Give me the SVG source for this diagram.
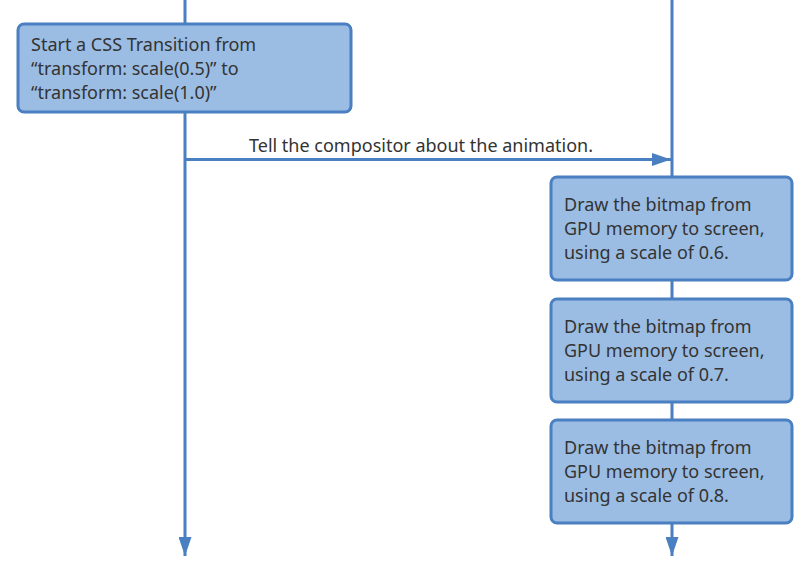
<svg xmlns="http://www.w3.org/2000/svg" width="811" height="574" viewBox="0 0 811 574">
<defs>
<marker id="ah" viewBox="0 0 19 13" refX="19" refY="6.5" markerWidth="19" markerHeight="13" markerUnits="userSpaceOnUse" orient="auto">
<path d="M0,0 L19,6.5 L0,13 Z" fill="#4a7fc1"/>
</marker>
</defs>
<style>
.line{stroke:#4a7fc1;stroke-width:3;fill:none}
.box{fill:#9bbde3;stroke:#4a7fc1;stroke-width:3}
text{font-family:"Noto Sans","Lato",sans-serif;font-size:18px;fill:#333}
</style>
<rect width="811" height="574" fill="#fff"/>
<g id="connectors">
<line class="line" x1="185" y1="0" x2="185" y2="556" marker-end="url(#ah)"/>
<line class="line" x1="672" y1="0" x2="672" y2="556" marker-end="url(#ah)"/>
<line class="line" x1="185" y1="159.5" x2="671" y2="159.5" marker-end="url(#ah)"/>
<text x="421" y="152" text-anchor="middle">Tell the compositor about the animation.</text>
</g>
<g id="node1">
<rect class="box" x="18" y="24" width="333" height="88" rx="6"/>
<text x="31" y="51">Start a CSS Transition from</text>
<text x="31" y="75">“transform: scale(0.5)” to</text>
<text x="31" y="99">“transform: scale(1.0)”</text>
</g>
<g id="node2">
<rect class="box" x="551" y="177" width="241" height="103" rx="6"/>
<text x="564" y="211">Draw the bitmap from</text>
<text x="564" y="235">GPU memory to screen,</text>
<text x="564" y="259">using a scale of 0.6.</text>
</g>
<g id="node3">
<rect class="box" x="551" y="299" width="241" height="103" rx="6"/>
<text x="564" y="333">Draw the bitmap from</text>
<text x="564" y="357">GPU memory to screen,</text>
<text x="564" y="381">using a scale of 0.7.</text>
</g>
<g id="node4">
<rect class="box" x="551" y="420" width="241" height="103" rx="6"/>
<text x="564" y="454">Draw the bitmap from</text>
<text x="564" y="478">GPU memory to screen,</text>
<text x="564" y="502">using a scale of 0.8.</text>
</g>
</svg>
